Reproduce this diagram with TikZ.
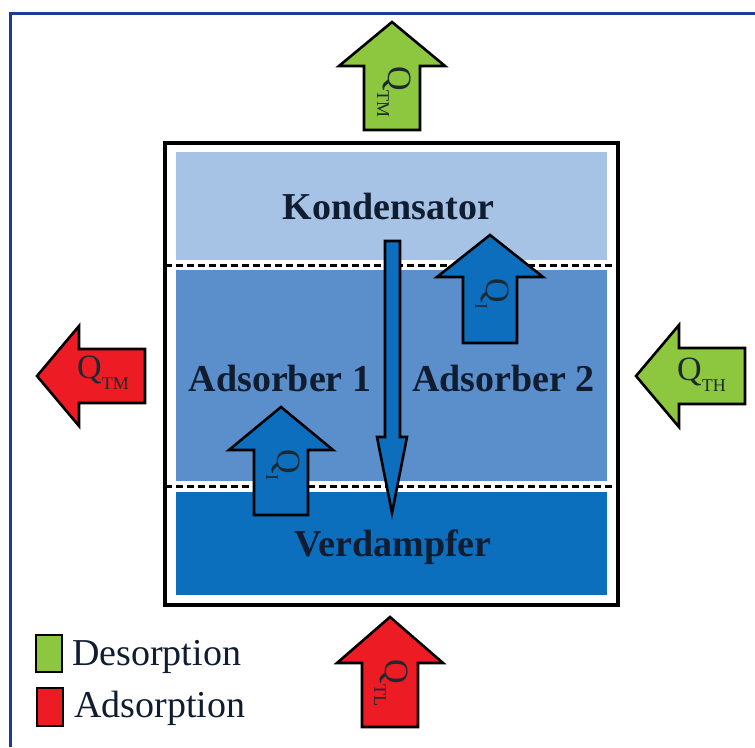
\documentclass[tikz,border=0pt]{standalone}
\usepackage{fontspec}
\setmainfont{Liberation Serif}
\definecolor{frameblue}{HTML}{1F3A93}
\definecolor{kondc}{HTML}{A6C3E6}
\definecolor{adsc}{HTML}{5B8FCB}
\definecolor{verdc}{HTML}{0B6FBE}
\definecolor{arrblue}{HTML}{0C6EBD}
\definecolor{desgreen}{HTML}{8DC63F}
\definecolor{adsred}{HTML}{ED1C24}
\definecolor{txtdark}{HTML}{101C30}
\definecolor{qdark}{HTML}{1B2A30}
\tikzset{
  arrline/.style={draw=black, line width=2.6pt, line join=miter},
  bandsep/.style={draw=black, line width=2.8pt, dash pattern=on 7pt off 4pt},
  bigtxt/.style={font=\fontsize{38}{38}\selectfont\bfseries, text=txtdark, inner sep=0pt, anchor=base},
  legtxt/.style={font=\fontsize{38}{38}\selectfont, text=txtdark, inner sep=0pt, anchor=base west},
  qlab/.style={text=qdark, inner sep=0pt},
  legbox/.style={draw=black, line width=2.4pt},
}
% heat-flow label: Q with a subscript
\newcommand\qtext[1]{{\fontsize{34}{34}\selectfont Q}\raisebox{-11pt}{\fontsize{18}{18}\selectfont #1}}
% upward block arrow: fill, centre x, tip y, head base y, bottom y, head half width, shaft half width
\newcommand\blockup[7]{%
  \draw[arrline, fill=#1] (#2,#3) -- (#2+#6,#4) -- (#2+#7,#4) -- (#2+#7,#5)
    -- (#2-#7,#5) -- (#2-#7,#4) -- (#2-#6,#4) -- cycle;}
% leftward block arrow: fill, tip x, centre y, head base x, right end x, head half height, shaft half height
\newcommand\blockleft[7]{%
  \draw[arrline, fill=#1] (#2,#3) -- (#4,#3-#6) -- (#4,#3-#7) -- (#5,#3-#7)
    -- (#5,#3+#7) -- (#4,#3+#7) -- (#4,#3+#6) -- cycle;}
\begin{document}
\begin{tikzpicture}[x=1pt,y=-1pt]
\useasboundingbox (0,0) rectangle (755,747);
% outer frame
\draw[frameblue, line width=3pt] (10,747) -- (10,13.5) -- (755,13.5);

% the three chambers
\fill[kondc] (176,152) rectangle (607,260);
\fill[adsc] (176,270) rectangle (607,481);
\fill[verdc] (176,492) rectangle (607,595);
\draw[bandsep] (165,265.5) -- (618,265.5);
\draw[bandsep] (165,486.5) -- (618,486.5);
\draw[black, line width=3.2pt] (165,143) rectangle (618,605);

\node[bigtxt] (kond) at (388.5,219) {Kondensator};
\node[bigtxt] (ads1) at (280,391) {Adsorber 1};
\node[bigtxt] (ads2) at (503.5,391) {Adsorber 2};
\node[bigtxt] (verd) at (393,556) {Verdampfer};

% internal heat and vapour flows
\blockup{arrblue}{490}{235}{277}{343}{53}{27}
\blockup{arrblue}{281}{407}{450}{515}{52}{27}
\node[qlab, rotate=-90] (qi2) at (492,294) {\qtext{I}};
\node[qlab, rotate=-90] (qi1) at (283,465) {\qtext{I}};
\draw[arrline, fill=arrblue] (392,513) -- (407,437) -- (400,437) -- (400,241)
  -- (385,241) -- (385,437) -- (377,437) -- cycle;

% external heat flows
\blockup{desgreen}{392}{22}{66}{130}{53}{28}
\node[qlab, rotate=-90] (qtm1) at (394,92) {\qtext{TM}};
\blockup{adsred}{390}{617}{663}{727}{53}{28}
\node[qlab, rotate=-90] (qtl) at (391,683) {\qtext{TL}};
\blockleft{adsred}{37}{376}{79}{145}{50}{27}
\node[qlab, anchor=base west] (qtm2) at (77,378) {\qtext{TM}};
\blockleft{desgreen}{636}{376}{679}{745}{51}{28}
\node[qlab, anchor=base west] (qth) at (677,380) {\qtext{TH}};

% legend
\draw[legbox, fill=desgreen] (36,635) rectangle (62,672);
\node[legtxt] (ldes) at (72,665) {Desorption};
\draw[legbox, fill=adsred] (37,688) rectangle (63,726);
\node[legtxt] (lads) at (74,717) {Adsorption};
\end{tikzpicture}
\end{document}
